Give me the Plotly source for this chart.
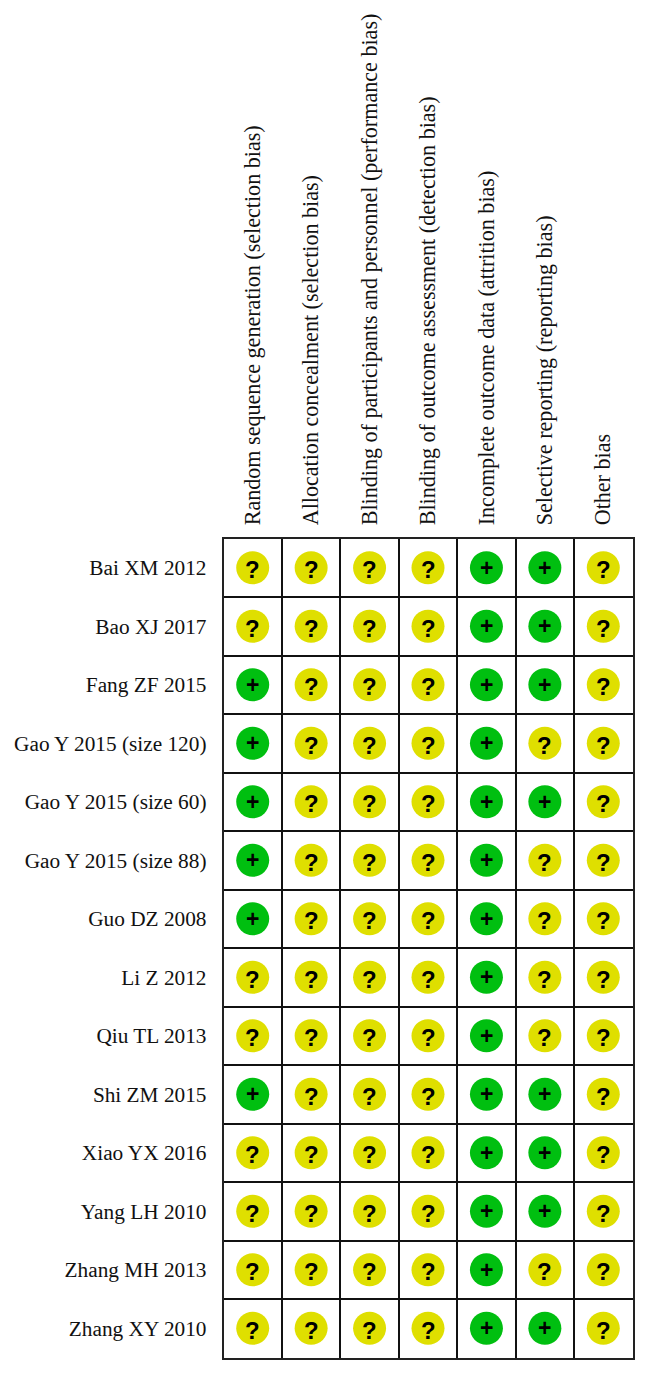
"""Risk of bias summary grid."""

import plotly.graph_objects as go

STUDIES = [
    "Bai XM 2012", "Bao XJ 2017", "Fang ZF 2015", "Gao Y 2015 (size 120)",
    "Gao Y 2015 (size 60)", "Gao Y 2015 (size 88)", "Guo DZ 2008", "Li Z 2012",
    "Qiu TL 2013", "Shi ZM 2015", "Xiao YX 2016", "Yang LH 2010",
    "Zhang MH 2013", "Zhang XY 2010",
]
DOMAINS = [
    "Random sequence generation (selection bias)",
    "Allocation concealment (selection bias)",
    "Blinding of participants and personnel (performance bias)",
    "Blinding of outcome assessment (detection bias)",
    "Incomplete outcome data (attrition bias)",
    "Selective reporting (reporting bias)",
    "Other bias",
]

# one string per domain, one character per study
RANDOM_SEQUENCE = "??+++++??+????"
ALLOCATION = "??????????????"
BLINDING_PARTICIPANTS = "??????????????"
BLINDING_OUTCOME = "??????????????"
INCOMPLETE_DATA = "++++++++++++++"
SELECTIVE_REPORTING = "+++?+????+++?+"
OTHER_BIAS = "??????????????"

RATINGS = [
    RANDOM_SEQUENCE, ALLOCATION, BLINDING_PARTICIPANTS, BLINDING_OUTCOME,
    INCOMPLETE_DATA, SELECTIVE_REPORTING, OTHER_BIAS,
]

COLORS = {"?": "#dfdf00", "+": "#00bf10"}
GLYPH_SIZES = {"?": 24, "+": 23}
GLYPH_SHIFT = {"?": -2, "+": 0}  # px, glyphs do not sit centred in their line box

# the page body adds an 8px margin, so the figure sits at (8, 8)
W, H = 632, 1357
PAGE_OFFSET = 8
LEFT, RIGHT, TOP, BOTTOM = 223.5, 632.5, 538.5, 1357.5

xs, ys, marks = [], [], []
for col, ratings in enumerate(RATINGS):
    for row, mark in enumerate(ratings):
        xs.append(col)
        ys.append(row)
        marks.append(mark)

fig = go.Figure()

fig.add_trace(go.Scatter(
    x=xs,
    y=ys,
    mode="markers",
    marker=dict(size=33, color=[COLORS[m] for m in marks], line=dict(width=0)),
    showlegend=False,
    cliponaxis=False,
))

for x, y, mark in zip(xs, ys, marks):
    fig.add_annotation(
        x=x,
        y=y,
        text=f"<b>{mark}</b>",
        showarrow=False,
        yshift=GLYPH_SHIFT[mark],
        font=dict(family="Liberation Sans", size=GLYPH_SIZES[mark], color="black"),
    )

grid = dict(showgrid=True, gridcolor="#111111", gridwidth=2, tick0=0.5, dtick=1)

fig.update_layout(
    width=W,
    height=H,
    margin=dict(l=0, r=0, t=0, b=0),
    paper_bgcolor="white",
    plot_bgcolor="white",
    font=dict(family="Liberation Serif", color="#111111"),
    xaxis=dict(
        domain=[(LEFT - PAGE_OFFSET) / W, (RIGHT - PAGE_OFFSET) / W],
        range=[-0.5, 6.5],
        side="top",
        tickmode="array",
        tickvals=list(range(len(DOMAINS))),
        ticktext=DOMAINS,
        tickfont=dict(size=22.1),
        tickangle=-90,
        ticks="outside",
        ticklen=7,
        tickcolor="white",
        showgrid=False,
        zeroline=False,
        minor=grid,
        showline=True,
        linecolor="#222222",
        linewidth=1.5,
        mirror=True,
    ),
    yaxis=dict(
        domain=[1 - (BOTTOM - PAGE_OFFSET) / H, 1 - (TOP - PAGE_OFFSET) / H],
        range=[13.5, -0.5],
        tickmode="array",
        tickvals=list(range(len(STUDIES))),
        ticktext=STUDIES,
        tickfont=dict(size=21.3),
        ticks="outside",
        ticklen=11,
        tickcolor="white",
        showgrid=False,
        zeroline=False,
        minor=grid,
        showline=True,
        linecolor="#222222",
        linewidth=1.5,
        mirror=True,
    ),
)

fig.write_html("out.html")
